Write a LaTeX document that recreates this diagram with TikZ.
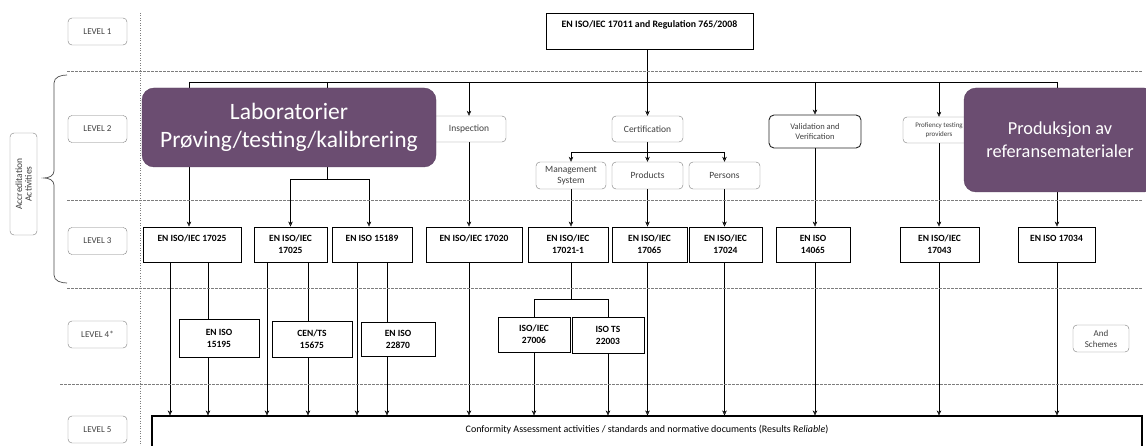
\documentclass[tikz,border=0pt]{standalone}
\usepackage{fontspec}
\setmainfont{Carlito}
\usetikzlibrary{backgrounds,arrows.meta}
\definecolor{labpurple}{RGB}{107,77,113}
\definecolor{lvlgray}{RGB}{125,125,125}
\definecolor{linegray}{RGB}{75,75,75}

\tikzset{
  >={Stealth[length=5pt,width=4.5pt]},
  level/.style={draw=lvlgray, rounded corners=4pt, minimum width=59pt, minimum height=27pt,
    font=\fontsize{9}{10}\selectfont, text=black!75},
  activity/.style={draw=lvlgray, rounded corners=4pt, minimum height=26pt, align=center,
    font=\fontsize{9.5}{11}\selectfont, text=black!75, fill=white, inner sep=1pt},
  standard/.style={draw=black, line width=0.9pt, minimum height=35pt, align=center,
    font=\bfseries\fontsize{9.5}{12}\selectfont, fill=white, inner sep=1pt},
  onetop/.style={text height=7pt, text depth=13pt},
  area/.style={draw=labpurple!85!black, fill=labpurple, rounded corners=12pt, text=white, align=center},
  sep/.style={draw=lvlgray, dash pattern=on 2.5pt off 1.5pt, line width=0.6pt},
  link/.style={draw=linegray, line width=0.75pt},
}

\begin{document}
\begin{tikzpicture}[x=1pt,y=-1pt]
  \useasboundingbox (0,0) rectangle (1146,446);

  % level separators
  \draw[sep] (67,71) -- (1143,71);
  \draw[sep] (67,200) -- (1143,200);
  \draw[sep] (67,288) -- (1143,288);
  \draw[sep] (60,384) -- (1143,384);
  \draw[sep, dash pattern=on 1pt off 1.5pt] (140,13) -- (140,446);

  % levels
  \node[level] (lv1) at (97.5,31.5) {LEVEL 1};
  \node[level] (lv2) at (97.5,129) {LEVEL 2};
  \node[level] (lv3) at (97.5,241) {LEVEL 3};
  \node[level] (lv4) at (97.5,334.5) {LEVEL 4*};
  \node[level] (lv5) at (97.5,429.5) {LEVEL 5};
  \node[level, rotate=90, minimum width=102pt, align=center, inner sep=1pt,
    font=\fontsize{9.5}{9.5}\selectfont] (acc) at (23.5,184) {Accreditation\\Activities};
  \draw[linegray, line width=0.7pt]
    (67,75) to[out=180,in=90] (54,83) -- (54,171) to[out=-90,in=0] (44,178)
    to[out=0,in=90] (54,185) -- (54,275) to[out=-90,in=180] (67,283);

  % level 1
  \node[standard, onetop, minimum width=207pt, minimum height=36pt,
    font=\bfseries\fontsize{9.8}{12}\selectfont] (top) at (649.5,31) {EN ISO/IEC 17011 and Regulation 765/2008};

  % level 2
  \node[activity, minimum width=74pt] (insp) at (469,129) {Inspection};
  \node[activity, minimum width=71pt] (cert) at (647.5,129) {Certification};
  \node[activity, minimum width=70pt, minimum height=27pt] (mgmt) at (571,175.5) {Management\\System};
  \node[activity, minimum width=71pt, minimum height=27pt] (prod) at (647.5,175.5) {Products};
  \node[activity, minimum width=71pt, minimum height=27pt] (pers) at (724.5,175.5) {Persons};
  \node[activity, draw=black!85, line width=0.9pt, rounded corners=5pt, minimum width=92pt,
    minimum height=33pt, font=\fontsize{8.5}{10}\selectfont] (valid) at (815,131.5) {Validation and\\Verification};
  \node[activity, minimum width=72pt, font=\fontsize{7}{8.5}\selectfont] (prof) at (939,130) {Profiency testing\\providers};
  \node[area, minimum width=294pt, minimum height=79pt, font=\fontsize{23.5}{28}\selectfont] (lab)
    at (289,127.5) {Laboratorier\\Prøving/testing/kalibrering};
  \node[area, minimum width=192pt, minimum height=104pt, font=\fontsize{18.3}{23}\selectfont] (ref)
    at (1060,140) {Produksjon av\\referansematerialer};

  % level 3
  \node[standard, onetop, minimum width=98pt] (b1) at (192,244.5) {EN ISO/IEC 17025};
  \node[standard, minimum width=73pt] (b2) at (290.5,244.5) {EN ISO/IEC\\17025};
  \node[standard, onetop, minimum width=80pt] (b3) at (372,244.5) {EN ISO 15189};
  \node[standard, onetop, minimum width=96pt] (b4) at (474,244.5) {EN ISO/IEC 17020};
  \node[standard, minimum width=80pt] (b5) at (568,244.5) {EN ISO/IEC\\17021-1};
  \node[standard, minimum width=75pt] (b6) at (649.5,244.5) {EN ISO/IEC\\17065};
  \node[standard, minimum width=73pt] (b7) at (725.5,244.5) {EN ISO/IEC\\17024};
  \node[standard, minimum width=74pt] (b8) at (813,244.5) {EN ISO\\14065};
  \node[standard, minimum width=79pt] (b9) at (939.5,244.5) {EN ISO/IEC\\17043};
  \node[standard, onetop, minimum width=77pt] (b10) at (1056.5,244.5) {EN ISO 17034};

  % level 4
  \node[standard, minimum width=80pt, minimum height=38pt] (c1) at (219,338) {EN ISO\\15195};
  \node[standard, minimum width=80pt, minimum height=36pt] (c2) at (312,339) {CEN/TS\\15675};
  \node[standard, minimum width=74pt, minimum height=34pt] (c3) at (398,339) {EN ISO\\22870};
  \node[standard, minimum width=72pt] (c4) at (534,334.5) {ISO/IEC\\27006};
  \node[standard, minimum width=72pt, minimum height=36pt] (c5) at (608,335) {ISO TS\\22003};
  \node[activity, minimum width=56pt, minimum height=27pt, font=\fontsize{9}{11}\selectfont] (schemes)
    at (1101,338.5) {And\\Schemes};

  % level 5
  \node[standard, line width=1.1pt, minimum width=990pt, minimum height=50pt, text height=7pt,
    text depth=25pt, font=\fontsize{10}{12}\selectfont] (l5) at (647,441)
    {Conformity Assessment activities / standards and normative documents (Results R\textit{eliable})};

  \begin{scope}[on background layer, link]
    % level 1 -> level 2
    \coordinate (busW) at (189,82);
    \coordinate (busE) at (1057,82);
    \draw (busW) -- (busE);
    \draw[->] (top.south -| cert.north) -- (cert.north);
    \draw (busW) -- (busW |- lab.north);
    \draw ([xshift=38]lab.north |- busW) -- ([xshift=38]lab.north);
    \draw[->] (insp.north |- busW) -- (insp.north);
    \draw[->] (valid.north |- busW) -- (valid.north);
    \draw[->] (prof.north |- busW) -- (prof.north);
    \draw (busE) -- (busE |- ref.north);
    \draw (cert.south) -- ++(0,10) coordinate (certfork);
    \draw (certfork -| mgmt.north) -- (certfork -| pers.north);
    \foreach \n in {mgmt,prod,pers}
      \draw[->] (certfork -| \n.north) -- (\n.north);

    % level 2 -> level 3
    \draw[->] (busW |- lab.south) -- (busW |- b1.north);
    \draw ([xshift=38]lab.south) -- ++(0,12) coordinate (labfork);
    \draw (labfork -| b2.north) -- ([xshift=-3]labfork -| b3.north);
    \draw[->] (labfork -| b2.north) -- (b2.north);
    \draw[->] ([xshift=-3]labfork -| b3.north) -- ([xshift=-3]b3.north);
    \draw[->] (insp.south) -- (insp.south |- b4.north);
    \draw[->] (mgmt.south) -- (mgmt.south |- b5.north);
    \draw[->] (prod.south) -- (prod.south |- b6.north);
    \draw[->] (pers.south) -- (pers.south |- b7.north);
    \draw[->] (valid.south) -- (valid.south |- b8.north);
    \draw[->] (prof.south) -- (prof.south |- b9.north);
    \draw[->] (busE |- ref.south) -- (busE |- b10.north);

    % level 3 -> level 4 -> level 5
    \draw[->] ([xshift=-22]b1.south) -- ([xshift=-22]b1.south |- l5.north);
    \draw ([xshift=16]b1.south) -- ([xshift=16]b1.south |- c1.north);
    \draw[->] ([xshift=16]b1.south |- c1.south) -- ([xshift=16]b1.south |- l5.north);
    \draw[->] ([xshift=-23.5]b2.south) -- ([xshift=-23.5]b2.south |- l5.north);
    \draw ([xshift=17.5]b2.south) -- ([xshift=17.5]b2.south |- c2.north);
    \draw[->] ([xshift=17.5]b2.south |- c2.south) -- ([xshift=17.5]b2.south |- l5.north);
    \draw[->] ([xshift=-15]b3.south) -- ([xshift=-15]b3.south |- l5.north);
    \draw ([xshift=15]b3.south) -- ([xshift=15]b3.south |- c3.north);
    \draw[->] ([xshift=15]b3.south |- c3.south) -- ([xshift=15]b3.south |- l5.north);
    \draw (mgmt.south |- b5.south) -- ++(0,37) coordinate (b5fork);
    \draw (b5fork -| c4.north) -- (b5fork -| c5.north);
    \draw (b5fork -| c4.north) -- (c4.north);
    \draw (b5fork -| c5.north) -- (c5.north);
    \draw[->] (c4.south) -- (c4.south |- l5.north);
    \draw[->] (c5.south) -- (c5.south |- l5.north);
    \foreach \n/\m in {insp/b4, prod/b6, pers/b7, valid/b8, prof/b9}
      \draw[->] (\n.south |- \m.south) -- (\n.south |- l5.north);
    \draw[->] (busE |- b10.south) -- (busE |- l5.north);
  \end{scope}
\end{tikzpicture}
\end{document}
